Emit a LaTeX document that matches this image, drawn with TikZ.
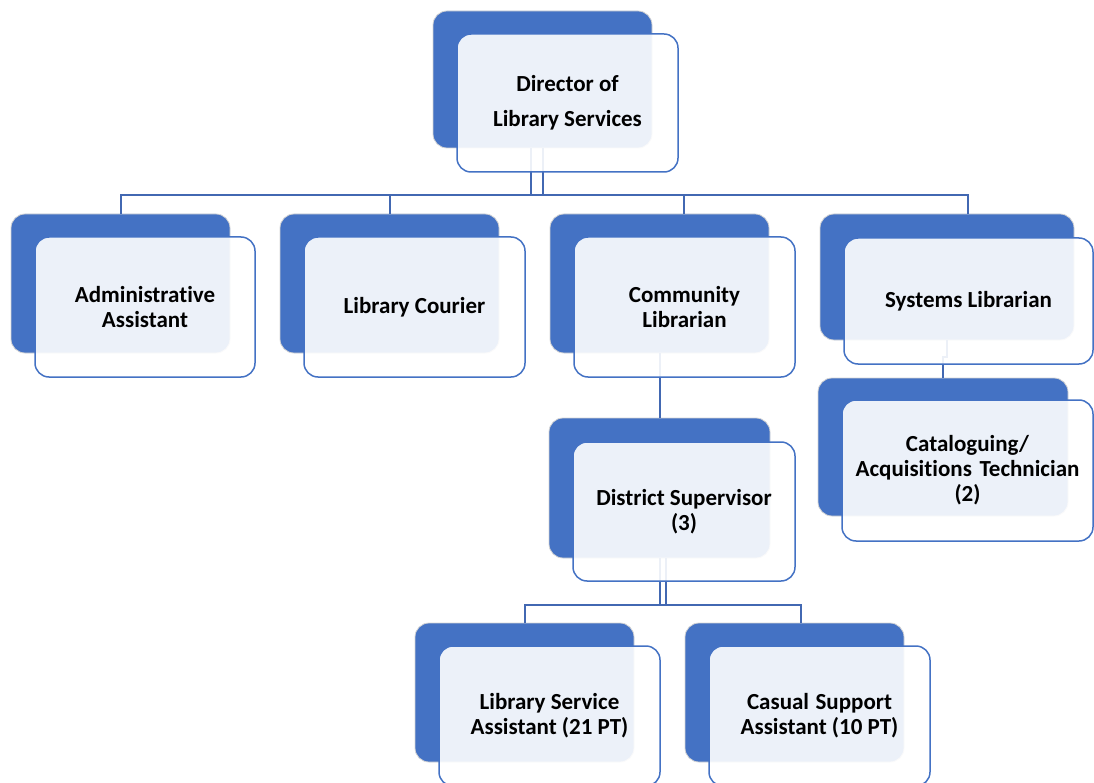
\documentclass[tikz,border=0pt]{standalone}
\usepackage{fontspec}
\setmainfont{Carlito}[Ligatures=NoCommon]
\definecolor{accent}{RGB}{68,114,196}
\definecolor{linkblue}{RGB}{66,104,178}
\definecolor{rim}{RGB}{212,212,212}

\begin{document}
\begin{tikzpicture}[x=1pt,y=-1pt,
  backbox/.style={rectangle, rounded corners=14pt, fill=accent, draw=rim,
    line width=0.8pt, inner sep=0pt, outer sep=0pt},
  frontbox/.style={rectangle, rounded corners=14pt, fill=white, fill opacity=0.9,
    text opacity=1, draw=accent, line width=1.5pt, inner sep=0pt, outer sep=0pt,
    align=center, font=\bfseries\fontsize{23}{25}\selectfont},
  link/.style={draw=linkblue, line width=2pt}]

\useasboundingbox (0,0) rectangle (1094,783);
\clip (0,0) rectangle (1094,783);

% back (dark) panels
\node[backbox, minimum width=219pt, minimum height=137pt] (dirB)   at (542.5,79.5) {};
\node[backbox, minimum width=219pt, minimum height=139pt] (admB)   at (120.5,283.5) {};
\node[backbox, minimum width=219pt, minimum height=139pt] (couB)   at (389.5,283.5) {};
\node[backbox, minimum width=219pt, minimum height=139pt] (comB)   at (659.5,283.5) {};
\node[backbox, minimum width=254pt, minimum height=126pt] (sysB)   at (947,277) {};
\node[backbox, minimum width=250pt, minimum height=138pt] (catB)   at (943,447) {};
\node[backbox, minimum width=221pt, minimum height=140pt] (disB)   at (659.5,488) {};
\node[backbox, minimum width=219pt, minimum height=139pt] (lsaB)   at (524.5,692.5) {};
\node[backbox, minimum width=219pt, minimum height=139pt] (casB)   at (794.5,692.5) {};

% connector end points
\coordinate (busA) at (0,195);
\coordinate (busB) at (0,605);
\coordinate (dirOutL) at ([xshift=-11.5pt]dirB.south);
\coordinate (dirOutR) at ([xshift=0.5pt]dirB.south);
\coordinate (comIn) at ([xshift=24.5pt]comB.north);
\coordinate (sysIn) at ([xshift=21pt]sysB.north);
\coordinate (disOutR) at ([xshift=6.5pt]disB.south);
\coordinate (casIn) at ([xshift=6.5pt]casB.north);

% connectors
\draw[link] (admB.north) |- (sysIn |- busA) -- (sysIn);
\draw[link] (couB.north) -- (couB.north |- busA);
\draw[link] (comIn) -- (comIn |- busA);
\draw[link] (dirOutL) -- (dirOutL |- busA);
\draw[link] (dirOutR) -- (dirOutR |- busA);
\draw[link] (comB.south) -- (disB.north);
\draw[link] (sysB.south) -- ++(0,17) -| (catB.north);
\draw[link] (lsaB.north) |- (casIn |- busB) -- (casIn);
\draw[link] (disB.south) -- (disB.south |- busB);
\draw[link] (disOutR) -- (disOutR |- busB);

% front (light) panels with titles
\node[frontbox, minimum width=221pt, minimum height=138pt,
  font=\bfseries\fontsize{23}{35}\selectfont] (dir) at (567.5,103) {Director of\\Library Services};
\node[frontbox, minimum width=220pt, minimum height=140pt] (adm) at (145,307) {Administrative\\Assistant};
\node[frontbox, minimum width=221pt, minimum height=140pt] (cou) at (414.5,307) {Library Courier};
\node[frontbox, minimum width=221pt, minimum height=140pt] (com) at (684.5,307) {Community\\Librarian};
\node[frontbox, minimum width=249pt, minimum height=126pt] (sys) at (968.5,301) {Systems Librarian};
\node[frontbox, minimum width=251pt, minimum height=141pt] (cat) at (967.5,470.5) {Cataloguing/\\Acquisitions\hspace{0.33em}Technician\\(2)};
\node[frontbox, minimum width=222pt, minimum height=139pt] (dis) at (684,511.5) {District Supervisor\\(3)};
\node[frontbox, minimum width=221pt, minimum height=140pt] (lsa) at (549.5,716) {Library Service\\Assistant (21 PT)};
\node[frontbox, minimum width=221pt, minimum height=140pt] (cas) at (819.5,716) {Casual\hspace{0.28em}Support\\Assistant (10 PT)};
\end{tikzpicture}
\end{document}
